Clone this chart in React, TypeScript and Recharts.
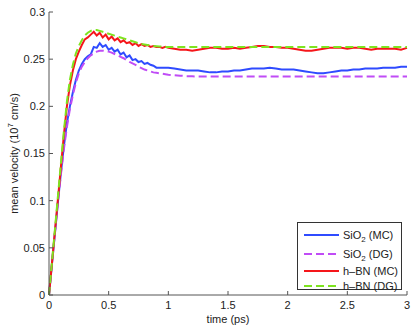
import { Line, LineChart, XAxis, YAxis } from "recharts";

const times = [
  0, 0.025, 0.05, 0.075, 0.1, 0.125, 0.15, 0.175, 0.2, 0.225, 0.25, 0.275, 0.3, 0.325, 0.35, 0.375, 0.4, 0.425,
  0.45, 0.475, 0.5, 0.525, 0.55, 0.575, 0.6, 0.625, 0.65, 0.675, 0.7, 0.725, 0.75, 0.775, 0.8, 0.825, 0.85, 0.875,
  0.9, 0.925, 0.95, 0.975, 1.0,
  1.05, 1.1, 1.15, 1.2, 1.25, 1.3, 1.35, 1.4, 1.45, 1.5, 1.55, 1.6, 1.65, 1.7, 1.75, 1.8, 1.85, 1.9, 1.95, 2.0,
  2.05, 2.1, 2.15, 2.2, 2.25, 2.3, 2.35, 2.4, 2.45, 2.5, 2.55, 2.6, 2.65, 2.7, 2.75, 2.8, 2.85, 2.9, 2.95, 3.0,
];

const sio2Mc = [
  0, 0.033, 0.066, 0.099, 0.13, 0.158, 0.182, 0.2, 0.215, 0.228, 0.238, 0.245, 0.25, 0.253, 0.255, 0.263, 0.262,
  0.267, 0.263, 0.265, 0.26, 0.262, 0.258, 0.26, 0.255, 0.257, 0.252, 0.254, 0.249, 0.25, 0.247, 0.248, 0.245,
  0.246, 0.244, 0.243, 0.241, 0.241, 0.241, 0.241, 0.241,
  0.24, 0.239, 0.238, 0.238, 0.238, 0.237, 0.236, 0.236, 0.237, 0.237, 0.238, 0.238, 0.239, 0.24, 0.24, 0.24,
  0.241, 0.24, 0.239, 0.239, 0.239, 0.238, 0.237, 0.236, 0.235, 0.235, 0.236, 0.237, 0.238, 0.238, 0.239, 0.239,
  0.24, 0.24, 0.24, 0.241, 0.241, 0.241, 0.242, 0.242,
];

const sio2Dg = [
  0, 0.033, 0.066, 0.098, 0.128, 0.155, 0.178, 0.197, 0.212, 0.225, 0.235, 0.242, 0.247, 0.251, 0.254, 0.256,
  0.258, 0.259, 0.259, 0.2585, 0.258, 0.257, 0.2555, 0.254, 0.2525, 0.251, 0.249, 0.247, 0.2455, 0.244, 0.242,
  0.2405, 0.239, 0.238, 0.237, 0.236, 0.2355, 0.235, 0.2345, 0.234, 0.2335,
  0.233, 0.2325, 0.232, 0.2318, 0.2315, 0.2315, 0.2315, 0.2315, 0.2315, 0.2315, 0.2315, 0.2315, 0.2315, 0.2315,
  0.2315, 0.2315, 0.2315, 0.2315, 0.2315, 0.2315, 0.2315, 0.2315, 0.2315, 0.2315, 0.2315, 0.2315, 0.2315,
  0.2315, 0.2315, 0.2315, 0.2315, 0.2315, 0.2315, 0.2315, 0.2315, 0.2315, 0.2315, 0.2315, 0.2315, 0.2315,
];

const hbnMc = [
  0, 0.034, 0.068, 0.102, 0.136, 0.17, 0.2, 0.222, 0.238, 0.25, 0.258, 0.265, 0.271, 0.273, 0.276, 0.279, 0.275,
  0.278, 0.273, 0.276, 0.271, 0.274, 0.27, 0.272, 0.268, 0.27, 0.267, 0.268, 0.265, 0.267, 0.264, 0.266, 0.264,
  0.265, 0.263, 0.264, 0.263, 0.263, 0.262, 0.263, 0.262,
  0.261, 0.26, 0.26, 0.259, 0.26, 0.261, 0.262, 0.262, 0.261, 0.261, 0.262, 0.261, 0.262, 0.263, 0.264, 0.264,
  0.263, 0.263, 0.262, 0.262, 0.261, 0.26, 0.259, 0.259, 0.26, 0.261, 0.262, 0.262, 0.262, 0.261, 0.262, 0.262,
  0.261, 0.26, 0.261, 0.261, 0.261, 0.261, 0.26, 0.262,
];

const hbnDg = [
  0, 0.035, 0.07, 0.105, 0.14, 0.174, 0.205, 0.228, 0.244, 0.256, 0.264, 0.27, 0.275, 0.278, 0.28, 0.281, 0.281,
  0.28, 0.279, 0.278, 0.277, 0.276, 0.275, 0.274, 0.273, 0.272, 0.271, 0.27, 0.269, 0.268, 0.267, 0.266, 0.2655,
  0.265, 0.2645, 0.264, 0.2638, 0.2635, 0.2632, 0.263, 0.263,
  0.263, 0.263, 0.263, 0.263, 0.263, 0.263, 0.263, 0.263, 0.263, 0.263, 0.263, 0.263, 0.263, 0.263, 0.263,
  0.263, 0.263, 0.263, 0.263, 0.263, 0.263, 0.263, 0.263, 0.263, 0.263, 0.263, 0.263, 0.263, 0.263, 0.263,
  0.263, 0.263, 0.263, 0.263, 0.263, 0.263, 0.263, 0.263, 0.263, 0.263,
];

const xTicks = [0, 0.5, 1, 1.5, 2, 2.5, 3];
const yTicks = [0, 0.05, 0.1, 0.15, 0.2, 0.25, 0.3];

const series = [
  { key: "sio2Mc", base: "SiO", sub: "2", suffix: " (MC)", color: "#2f4bff", dash: undefined },
  { key: "sio2Dg", base: "SiO", sub: "2", suffix: " (DG)", color: "#c04cf6", dash: "8 4" },
  { key: "hbnMc", base: "h\u2013BN", sub: "", suffix: " (MC)", color: "#f5161a", dash: undefined },
  { key: "hbnDg", base: "h\u2013BN", sub: "", suffix: " (DG)", color: "#7ee41f", dash: "8 4" },
];

const data = times.map((t, i) => ({
  t,
  sio2Mc: sio2Mc[i],
  sio2Dg: sio2Dg[i],
  hbnMc: hbnMc[i],
  hbnDg: hbnDg[i],
}));

const font = "'Liberation Sans', Arial, sans-serif";

function YLabel({ viewBox }: any) {
  const cy = viewBox.y + viewBox.height / 2;
  const x = 14;
  return (
    <text
      x={x}
      y={cy}
      transform={`rotate(-90 ${x} ${cy})`}
      textAnchor="middle"
      dominantBaseline="central"
      fontSize={11}
      fill="#222"
      fontFamily={font}
    >
      mean velocity (10
      <tspan fontSize={8} dy={-4}>7</tspan>
      <tspan dy={4}> cm/s)</tspan>
    </text>
  );
}

function LegendBox() {
  return (
    <div
      style={{
        position: "absolute",
        left: 297,
        top: 222,
        border: "1px solid #333",
        background: "#fff",
        width: 105,
        height: 68,
        boxSizing: "border-box",
        padding: "2px 0 0 6px",
        fontFamily: font,
        fontSize: 11,
        color: "#222",
      }}
    >
      {series.map((s, i) => (
        <div
          key={s.key}
          style={{ display: "flex", alignItems: "center", height: i < 2 ? 19 : 15, lineHeight: "12px" }}
        >
          <svg width={35} height={6} style={{ marginRight: 4 }}>
            <line x1={0} y1={3} x2={35} y2={3} stroke={s.color} strokeWidth={2} strokeDasharray={s.dash} />
          </svg>
          <span style={{ whiteSpace: "nowrap" }}>
            {s.base}
            {s.sub ? <sub style={{ fontSize: 8, verticalAlign: -3, lineHeight: 0 }}>{s.sub}</sub> : null}
            {s.suffix}
          </span>
        </div>
      ))}
    </div>
  );
}

export default function App() {
  return (
    <div style={{ position: "absolute", left: 0, top: 0, width: 415, height: 326, background: "#fff" }}>
      <LineChart width={415} height={326} data={data} margin={{ top: 12, right: 8, left: 0, bottom: 0 }}>
        <XAxis
          dataKey="t"
          type="number"
          domain={[0, 3]}
          ticks={xTicks}
          tickFormatter={(v) => String(v)}
          tickSize={-4}
          tickMargin={10}
          height={31}
          stroke="#555"
          tick={{ fontSize: 11, fill: "#222", fontFamily: font }}
          label={{ value: "time (ps)", position: "insideBottom", offset: 3, fontSize: 11, fill: "#222", fontFamily: font }}
        />
        <YAxis
          type="number"
          domain={[0, 0.3]}
          ticks={yTicks}
          tickFormatter={(v) => String(v)}
          tickSize={-4}
          tickMargin={8}
          width={49}
          stroke="#555"
          tick={{ fontSize: 11, fill: "#222", fontFamily: font }}
          label={<YLabel />}
        />
        {series.map((s) => (
          <Line
            key={s.key}
            dataKey={s.key}
            stroke={s.color}
            strokeWidth={2}
            strokeDasharray={s.dash}
            dot={false}
            activeDot={false}
            type="linear"
            isAnimationActive={false}
          />
        ))}
      </LineChart>
      <LegendBox />
    </div>
  );
}
